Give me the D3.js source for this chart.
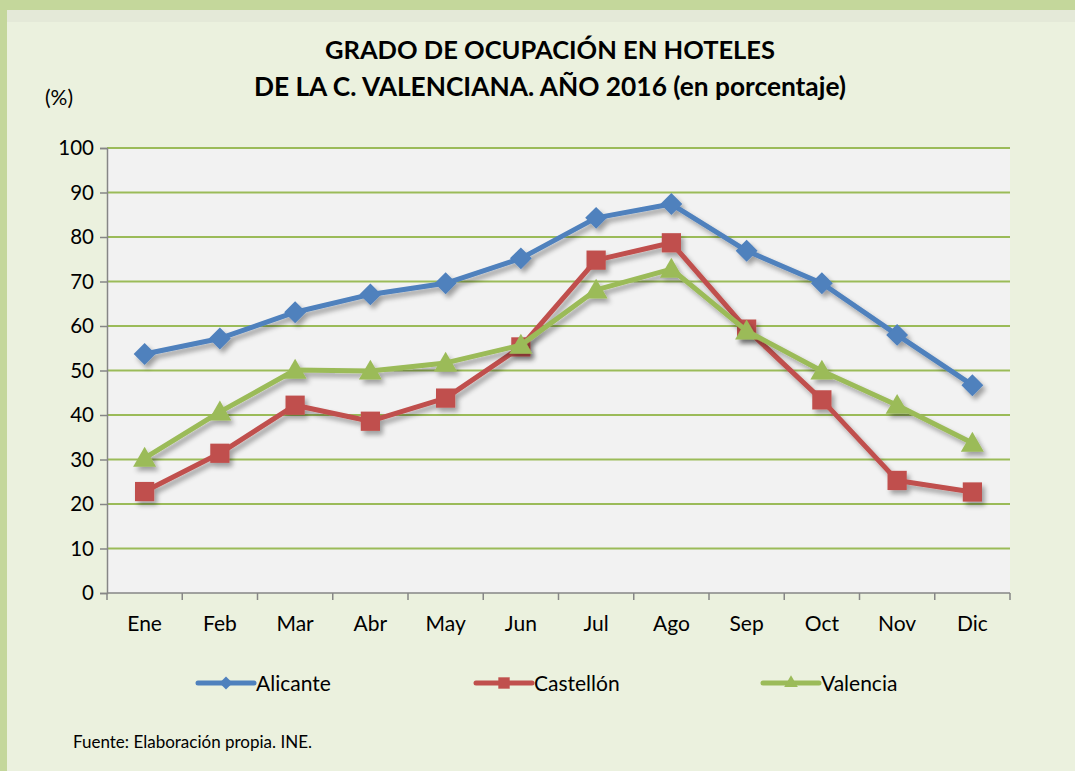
<!DOCTYPE html>
<html>
<head>
<meta charset="utf-8">
<script src="https://cdn.jsdelivr.net/npm/d3@7"></script>
<style>
  body { margin: 0; background: #ebf1de; }
  svg { display: block; font-family: Lato, "Open Sans", sans-serif; }
</style>
</head>
<body>
<script>
// data
var months = ['Ene', 'Feb', 'Mar', 'Abr', 'May', 'Jun', 'Jul', 'Ago', 'Sep', 'Oct', 'Nov', 'Dic']
var alicante = [53.7, 57.2, 63.1, 67.1, 69.6, 75.2, 84.3, 87.4, 76.9, 69.6, 58.0, 46.7]
var castellon = [22.8, 31.4, 42.2, 38.6, 43.8, 55.3, 74.8, 78.7, 59.3, 43.4, 25.3, 22.7]
var valencia = [30.3, 40.7, 50.1, 49.9, 51.7, 55.7, 68.1, 72.8, 58.9, 49.9, 42.2, 33.7]
var yTicks = [0, 10, 20, 30, 40, 50, 60, 70, 80, 90, 100]
var seriesNames = ['Alicante', 'Castellón', 'Valencia']

var width = 1075
var height = 771
var plot = {left: 107, right: 1010, top: 148, bottom: 593}

var svg = d3.select('body').append('svg').attr('width', width).attr('height', height)

// frame
svg.append('rect').attr('width', width).attr('height', height).attr('fill', '#ebf1de')
svg.append('rect').attr('width', width).attr('height', 12).attr('y', 10).attr('fill', '#dfe4d4').attr('opacity', 0.6)
svg.append('rect').attr('width', width).attr('height', 10).attr('fill', '#c4d79b')
svg.append('rect').attr('width', 7).attr('height', height).attr('fill', '#c4d79b')

var defs = svg.append('defs')
var f = defs.append('filter').attr('id', 'shadow').attr('x', '-10%').attr('y', '-10%').attr('width', '130%').attr('height', '140%')
f.append('feGaussianBlur').attr('in', 'SourceAlpha').attr('stdDeviation', 2.5)
f.append('feOffset').attr('dx', 3).attr('dy', 4).attr('result', 'b')
f.append('feComponentTransfer').append('feFuncA').attr('type', 'linear').attr('slope', 0.35)
var m = f.append('feMerge')
m.append('feMergeNode')
m.append('feMergeNode').attr('in', 'SourceGraphic')

var x = d3.scaleBand().domain(months).range([plot.left, plot.right])
var y = d3.scaleLinear().domain([0, 100]).range([plot.bottom, plot.top])

svg.append('rect').attr('x', plot.left).attr('y', plot.top)
    .attr('width', plot.right - plot.left).attr('height', plot.bottom - plot.top).attr('fill', '#f2f2f2')

// gridlines
svg.append('g').selectAll('line').data(yTicks.filter(d => d > 0)).enter()
    .append('line').attr('x1', plot.left).attr('x2', plot.right)
    .attr('y1', d => y(d)).attr('y2', d => y(d))
    .attr('stroke', '#9bbb59').attr('stroke-width', 2)

// y axis
var yAxis = d3.axisLeft(y).tickValues(yTicks).tickSize(7).tickPadding(4)
var gy = svg.append('g').attr('transform', 'translate(' + plot.left + ',0)').call(yAxis)
gy.selectAll('path, line').attr('stroke', '#868686').attr('stroke-width', 1.5)
gy.selectAll('text').attr('font-size', 20.5).attr('fill', '#000').attr('dx', -2).attr('font-family', 'Lato')

// x axis
var xTickPos = d3.range(months.length + 1).map(i => plot.left + i * x.step())
var gx = svg.append('g')
gx.append('line').attr('x1', plot.left).attr('x2', plot.right).attr('y1', plot.bottom).attr('y2', plot.bottom)
    .attr('stroke', '#868686').attr('stroke-width', 1.5)
gx.selectAll('.tk').data(xTickPos).enter().append('line')
    .attr('x1', d => d).attr('x2', d => d).attr('y1', plot.bottom).attr('y2', plot.bottom + 7)
    .attr('stroke', '#868686').attr('stroke-width', 1.5)
gx.selectAll('text').data(months).enter().append('text')
    .attr('x', d => x(d) + x.bandwidth() / 2).attr('y', 631)
    .attr('text-anchor', 'middle').attr('font-size', 21).text(d => d)

// series
var colors = ['#4f81bd', '#c0504d', '#9bbb59']
var allSeries = [alicante, castellon, valencia]
var shapes = [d3.symbolSquare, d3.symbolSquare, d3.symbolTriangle]
var sizes = [240, 370, 230]
var rot = [45, 0, 0]

var line = d3.line().x((d, i) => x(months[i]) + x.bandwidth() / 2).y(d => y(d))

allSeries.forEach(function (vals, s) {
    var g = svg.append('g').attr('filter', 'url(#shadow)')
    g.append('path').datum(vals).attr('d', line).attr('fill', 'none')
        .attr('stroke', colors[s]).attr('stroke-width', 5).attr('stroke-linejoin', 'round')
    g.selectAll('path.mk').data(vals).enter().append('path').attr('class', 'mk')
        .attr('d', d3.symbol().type(shapes[s]).size(sizes[s]))
        .attr('transform', (d, i) => 'translate(' + (x(months[i]) + x.bandwidth() / 2) + ',' + (y(d) + (s == 2 ? 2 : 0)) + ') rotate(' + rot[s] + ')')
        .attr('fill', colors[s])
})

// legend
var legX = [198, 476, 763]
var leg = svg.append('g')
seriesNames.forEach(function (name, s) {
    var lg = leg.append('g').attr('transform', 'translate(' + legX[s] + ',683)')
    lg.append('line').attr('x1', 0).attr('x2', 56).attr('stroke', colors[s]).attr('stroke-width', 5).attr('stroke-linecap', 'round')
    lg.append('path').attr('d', d3.symbol().type(shapes[s]).size(sizes[s] * 0.35))
        .attr('transform', 'translate(28,0) rotate(' + rot[s] + ')').attr('fill', colors[s])
    lg.append('text').attr('x', 58).attr('y', 7.5).attr('font-size', 21).text(name)
})

// titles
svg.append('text').attr('x', 550).attr('y', 59).attr('text-anchor', 'middle')
    .attr('font-size', 25.5).attr('font-weight', 'bold').text('GRADO DE OCUPACIÓN EN HOTELES')
svg.append('text').attr('x', 550).attr('y', 96).attr('text-anchor', 'middle')
    .attr('font-size', 26.3).attr('font-weight', 'bold').text('DE LA C. VALENCIANA. AÑO 2016 (en porcentaje)')
svg.append('text').attr('x', 45).attr('y', 105).attr('font-size', 21).text('(%)')
svg.append('text').attr('x', 73).attr('y', 748).attr('font-size', 17).text('Fuente: Elaboración propia. INE.')
</script>
</body>
</html>
